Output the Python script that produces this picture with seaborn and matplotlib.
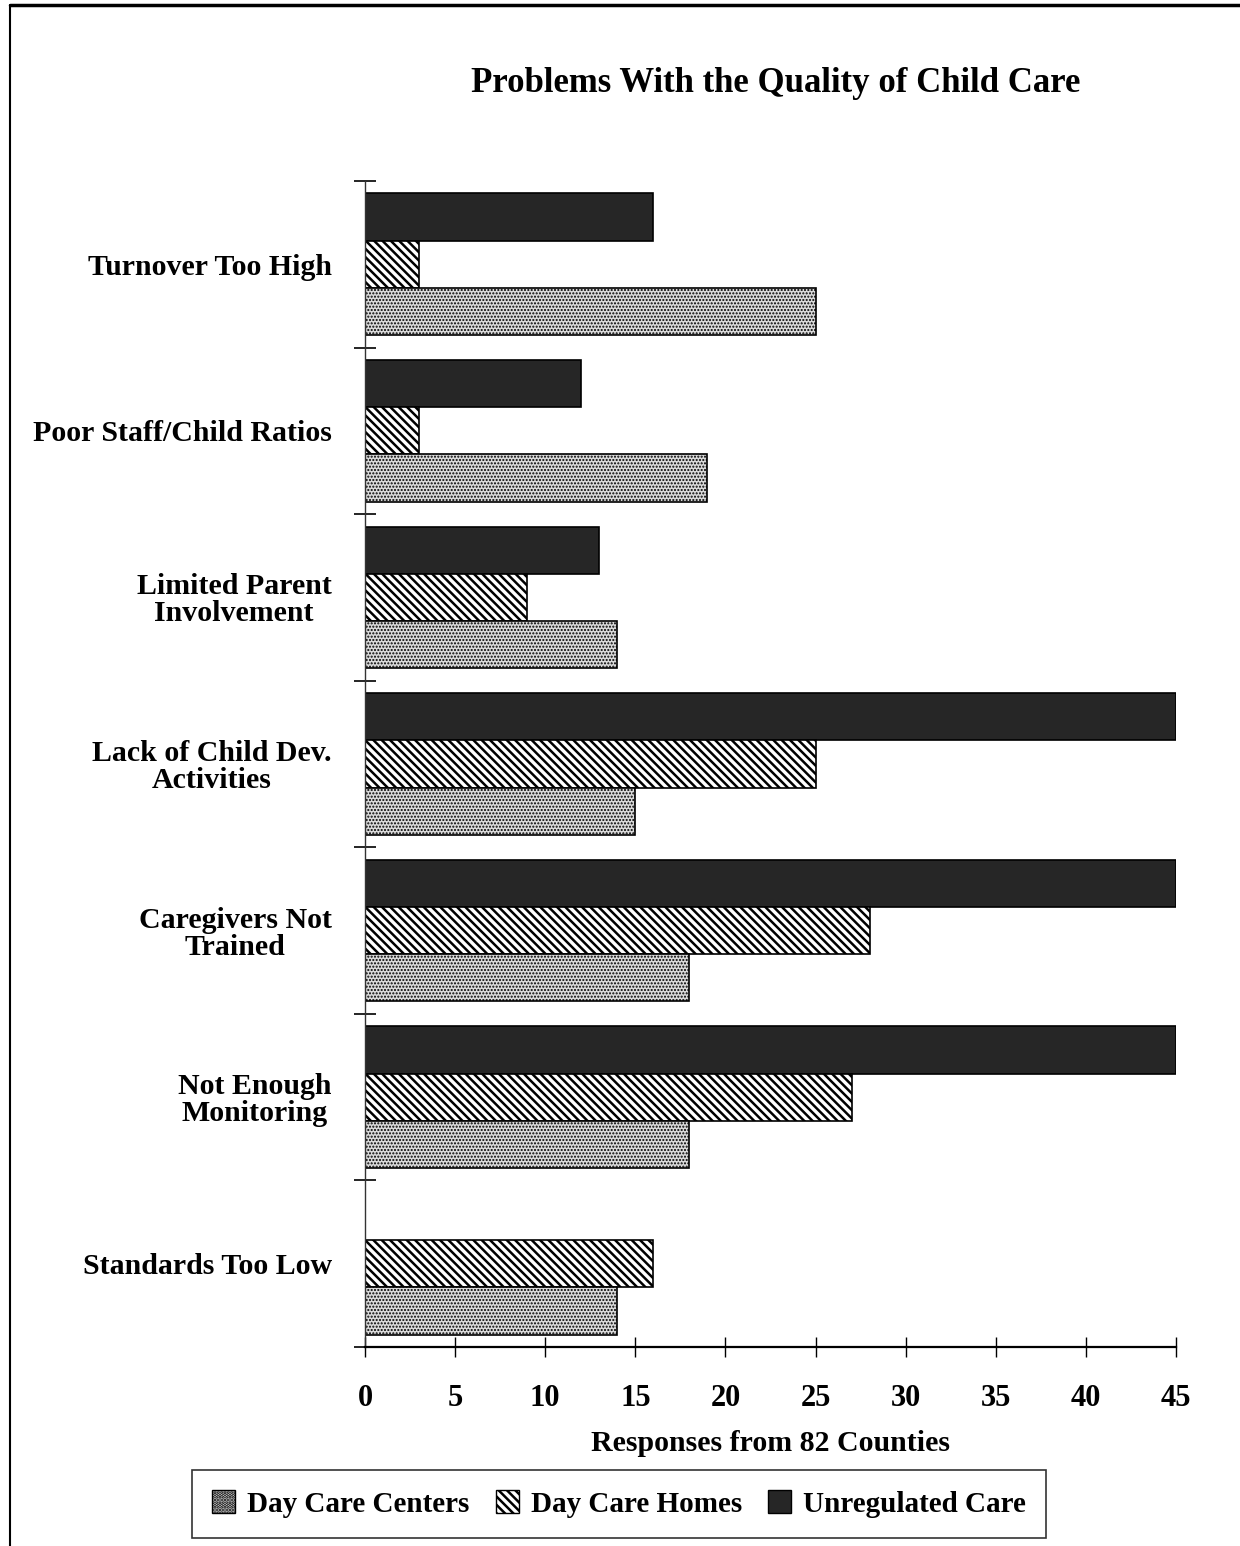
import numpy as np
import pandas as pd
import matplotlib
matplotlib.use("Agg")
import matplotlib.pyplot as plt
import seaborn as sns
from matplotlib.patches import Patch
from matplotlib.lines import Line2D

# Survey answers: number of counties naming each problem, per type of care
problems = [
    "Turnover Too High",
    "Poor Staff/Child Ratios",
    "Limited Parent\nInvolvement",
    "Lack of Child Dev.\nActivities",
    "Caregivers Not\nTrained",
    "Not Enough\nMonitoring",
    "Standards Too Low",
]
unregulated_care = [16, 12, 13, 45, 45, 45, 0]
day_care_homes = [3, 3, 9, 25, 28, 27, 16]
day_care_centers = [25, 19, 14, 15, 18, 18, 14]

series_names = ["Unregulated Care", "Day Care Homes", "Day Care Centers"]
legend_order = ["Day Care Centers", "Day Care Homes", "Unregulated Care"]
x_ticks = [0, 5, 10, 15, 20, 25, 30, 35, 40, 45]

styles = {
    "Unregulated Care": dict(facecolor="#262626", hatch=""),
    "Day Care Homes": dict(facecolor="white", hatch="\\\\\\\\"),
    "Day Care Centers": dict(facecolor="#dadada", hatch="....."),
}

df = pd.DataFrame({
    "problem": problems * 3,
    "series": np.repeat(series_names, len(problems)),
    "count": unregulated_care + day_care_homes + day_care_centers,
})

sns.set_style("white")
plt.rcParams["font.family"] = ["Liberation Serif", "DejaVu Serif"]
plt.rcParams["font.weight"] = "bold"
plt.rcParams["text.color"] = "black"
plt.rcParams["axes.labelcolor"] = "black"
plt.rcParams["xtick.color"] = "black"
plt.rcParams["ytick.color"] = "black"
plt.rcParams["hatch.linewidth"] = 1.8

fig = plt.figure(figsize=(12.4, 15.46), dpi=100)
ax = fig.add_axes([365 / 1240, 1 - 1347 / 1546, 811 / 1240, (1347 - 181) / 1546])

sns.barplot(
    data=df, y="problem", x="count", hue="series",
    order=problems, hue_order=series_names, orient="h",
    width=0.85, dodge=True, ax=ax, legend=False,
    edgecolor="black", linewidth=1.2, saturation=1,
)

# style the bars of each series
for container, name in zip(ax.containers, series_names):
    st = styles[name]
    for bar in container:
        bar.set_facecolor(st["facecolor"])
        bar.set_hatch(st["hatch"])
        bar.set_edgecolor("black")
        if name == "Day Care Centers" and hasattr(bar, "set_hatch_linewidth"):
            bar.set_hatch_linewidth(1.0)
        if bar.get_width() == 0:
            bar.set_visible(False)

ax.set_xlim(0, 45)
ax.set_ylim(len(problems) - 0.5, -0.5)
ax.set_xticks(x_ticks)
ax.set_xticklabels([str(t) for t in x_ticks], fontsize=22, fontweight="bold")
ax.tick_params(axis="x", bottom=True, direction="inout", length=14, width=1,
               pad=20, colors="black")

ax.set_yticks(range(len(problems)))
ax.set_yticklabels(problems, fontsize=21.5, fontweight="bold",
                   multialignment="center", linespacing=1.0)
ax.tick_params(axis="y", which="major", left=False, length=0, pad=24)
ax.set_yticks(np.arange(-0.5, len(problems)), minor=True)
ax.tick_params(axis="y", which="minor", left=True, direction="inout",
               length=16, width=1.2, colors="black")

ax.set_xlabel("Responses from 82 Counties", fontsize=21.5, fontweight="bold", labelpad=12)
ax.set_ylabel("")

for side in ["top", "right"]:
    ax.spines[side].set_visible(False)
ax.spines["left"].set_color("#333333")
ax.spines["left"].set_linewidth(1.0)
ax.spines["bottom"].set_color("black")
ax.spines["bottom"].set_linewidth(1.6)
ax.grid(False)

fig.text(776 / 1240, 1 - 83 / 1546, "Problems With the Quality of Child Care",
         ha="center", va="center", fontsize=25, fontweight="bold")

handles = [
    Patch(facecolor=styles[n]["facecolor"], hatch=styles[n]["hatch"],
          edgecolor="black", linewidth=1.0, label=n)
    for n in legend_order
]
leg = fig.legend(
    handles=handles, loc="center", bbox_to_anchor=(619 / 1240, 1 - 1504 / 1546),
    ncol=3, fontsize=21, frameon=True, fancybox=False, edgecolor="black",
    handlelength=0.8, handleheight=0.8, handletextpad=0.4, columnspacing=0.9,
    borderpad=0.7,
)
leg.get_frame().set_linewidth(1.2)

# page frame
fig.add_artist(Line2D([10 / 1240, 1.0], [1 - 5 / 1546, 1 - 5 / 1546],
                      transform=fig.transFigure, color="black", linewidth=2.5))
fig.add_artist(Line2D([10 / 1240, 10 / 1240], [0.0, 1 - 5 / 1546],
                      transform=fig.transFigure, color="black", linewidth=1.5))

fig.savefig("out.png", dpi=100, facecolor="white")
